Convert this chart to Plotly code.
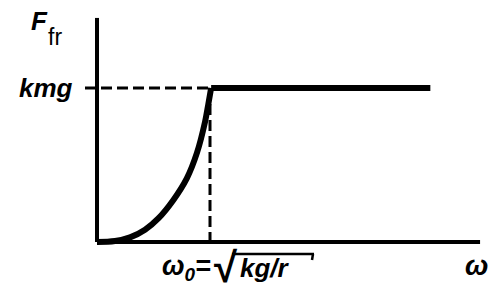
import plotly.graph_objects as go

# ---- data (units: omega in omega0, F in kmg) ----
omega_curve = [0.0, 0.159, 0.292, 0.425, 0.545, 0.673, 0.796, 0.885, 0.956, 0.985, 1.01]
F_curve = [0.0, 0.006, 0.03, 0.08, 0.155, 0.27, 0.415, 0.58, 0.78, 0.895, 1.0]
omega_plateau = [1.01, 2.95]
F_plateau = [1.0, 1.0]
omega0 = 1.0
kmg = 1.0
x_axis_end = 3.39
y_axis_end = 1.455

W, H = 493, 297
# pixel mapping: omega=0 -> px 97, omega0 -> px 210 ; F=0 -> py 242, kmg -> py 88
sx = 113.0
sy = 154.0
x_range = [-97 / sx, (W - 97) / sx]
y_range = [-(H - 242) / sy, 242 / sy]

fig = go.Figure()
ink = "black"
# axes
fig.add_trace(go.Scatter(x=[0, 0], y=[0, y_axis_end], mode="lines",
                         line=dict(color=ink, width=4), hoverinfo="skip"))
fig.add_trace(go.Scatter(x=[0, x_axis_end], y=[0, 0], mode="lines",
                         line=dict(color=ink, width=4), hoverinfo="skip"))
# dashed guides
fig.add_trace(go.Scatter(x=[-12 / sx, omega0], y=[kmg, kmg], mode="lines",
                         line=dict(color=ink, width=3, dash="11px,5px"), hoverinfo="skip"))
fig.add_trace(go.Scatter(x=[omega0, omega0], y=[kmg, 0], mode="lines",
                         line=dict(color=ink, width=3, dash="11px,5px"), hoverinfo="skip"))
# curve + plateau
fig.add_trace(go.Scatter(x=omega_curve, y=F_curve, mode="lines", line_shape="spline",
                         line=dict(color=ink, width=6), hoverinfo="skip"))
fig.add_trace(go.Scatter(x=omega_plateau, y=F_plateau, mode="lines",
                         line=dict(color=ink, width=6), hoverinfo="skip"))

font = "Liberation Sans, Arial, sans-serif"

def ann(text, px, py, size, xanchor="center", yanchor="middle"):
    fig.add_annotation(text=text, x=px / W, y=1 - py / H, xref="paper", yref="paper",
                       showarrow=False, xanchor=xanchor, yanchor=yanchor,
                       font=dict(family=font, size=size, color=ink))

ann("<b><i>F</i></b>", 39, 21, 26)
ann("fr", 55, 37, 23)
ann("<b><i>kmg</i></b>", 46, 88, 26)
ann("<b><i>ω</i></b>", 476, 265, 28)
ann("<b><i>ω<sub>0</sub>=</i></b>", 213, 268, 27, xanchor="right")
ann("<b>√</b>", 212, 267, 42, xanchor="left")
ann("<b><i>kg/r</i></b>", 238, 268, 26, xanchor="left")
# vinculum
fig.add_shape(type="line", xref="paper", yref="paper", x0=232 / W, x1=314 / W,
              y0=1 - 254 / H, y1=1 - 254 / H, line=dict(color=ink, width=2.5))
fig.add_shape(type="line", xref="paper", yref="paper", x0=313 / W, x1=312 / W,
              y0=1 - 254 / H, y1=1 - 260 / H, line=dict(color=ink, width=2.5))

fig.update_layout(width=W, height=H, margin=dict(l=0, r=0, t=0, b=0),
                  paper_bgcolor="white", plot_bgcolor="white", showlegend=False,
                  xaxis=dict(range=x_range, visible=False, fixedrange=True),
                  yaxis=dict(range=y_range, visible=False, fixedrange=True))
fig.write_html("out.html")
